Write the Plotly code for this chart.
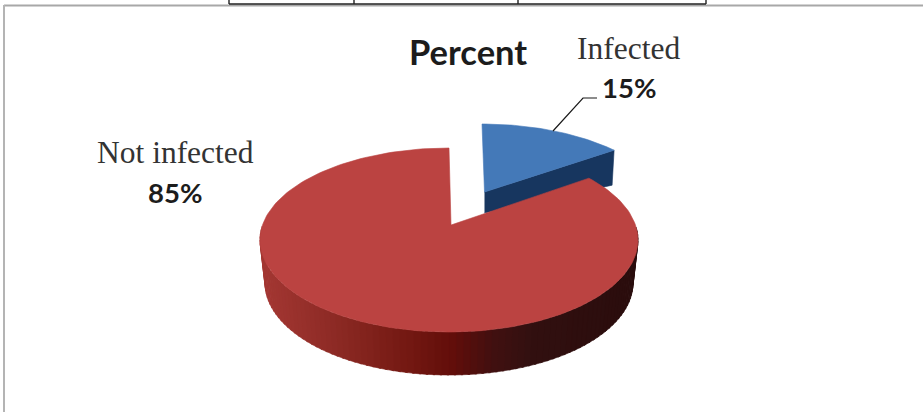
import math
import plotly.graph_objects as go

title = "Percent"
categories = ["Infected", "Not infected"]
percent = [15, 85]
slice_colors = ["#4479b8", "#bb4341"]
wall_color = "#17365f"

W, H = 923, 412
# projected pie geometry (paper pixels)
CX, CY, RX, RY = 449, 240, 189, 92
BX, BY, BRX, BRY = 449, 283, 184, 92
SQUASH_RED, SQUASH_BLUE = 0.80, 0.71
EXPLODE = (33, -24)
start_deg = percent[0] / sum(percent) * 360


def warp(deg, k):
    """true pie angle (clockwise from 12 o'clock) to ellipse parameter"""
    r = math.radians(deg)
    return math.atan2(math.sin(r) * k, math.cos(r))


def pt(cx, cy, rx, ry, t):
    return cx + rx * math.sin(t), cy - ry * math.cos(t)


def mix(stops, x):
    for (x0, c0), (x1, c1) in zip(stops, stops[1:]):
        if x <= x1:
            f = max(0, (x - x0) / (x1 - x0))
            return "rgb(%d,%d,%d)" % tuple(c0[i] + (c1[i] - c0[i]) * f for i in range(3))
    return "rgb(%d,%d,%d)" % stops[-1][1]


side_stops = [(262, (165, 56, 52)), (340, (140, 42, 36)), (410, (115, 24, 18)),
              (452, (98, 14, 10)), (490, (66, 16, 16)), (530, (50, 16, 16)),
              (640, (42, 13, 13))]

fig = go.Figure()


def poly(xs, ys, color):
    fig.add_trace(go.Scatter(x=xs, y=ys, mode="lines", fill="toself", fillcolor=color,
                             line=dict(color=color, width=0.6), hoverinfo="skip",
                             showlegend=False))


# blue slice: walls first, then face
t0 = warp(0, SQUASH_BLUE)
t1 = warp(start_deg, SQUASH_BLUE)
bx, by = CX + EXPLODE[0], CY + EXPLODE[1]
apex_b = (484.5, 192)
tip = pt(bx, by, RX, RY, t1)
poly([apex_b[0], tip[0], tip[0] - 2, apex_b[0]],
     [apex_b[1], tip[1], tip[1] + 35, apex_b[1] + 21, ], wall_color)
ts = [t0 + (t1 - t0) * i / 40 for i in range(41)]
arc = [pt(bx, by, RX, RY, t) for t in ts]
poly([apex_b[0]] + [p[0] for p in arc] + [apex_b[0]],
     [apex_b[1]] + [p[1] for p in arc] + [apex_b[1]], slice_colors[0])

# red side wall as gradient strips
N = 90
for i in range(N):
    a = math.radians(82 + (278 - 82) * i / N)
    b = math.radians(82 + (278 - 82) * (i + 1.3) / N)
    p0, p1 = pt(CX, CY, RX, RY, a), pt(CX, CY, RX, RY, b)
    q0, q1 = pt(BX, BY, BRX, BRY, a), pt(BX, BY, BRX, BRY, b)
    poly([p0[0], p1[0], q1[0], q0[0], p0[0]], [p0[1], p1[1], q1[1], q0[1], p0[1]],
         mix(side_stops, (q0[0] + q1[0]) / 2))

# red face
t0 = warp(start_deg, SQUASH_RED)
t1 = warp(360, SQUASH_RED) + 2 * math.pi
ts = [t0 + (t1 - t0) * i / 200 for i in range(201)]
arc = [pt(CX, CY, RX, RY, t) for t in ts]
apex_r = (451, 225)
poly([apex_r[0]] + [p[0] for p in arc] + [apex_r[0]],
     [apex_r[1]] + [p[1] for p in arc] + [apex_r[1]], slice_colors[1])

# leader line
fig.add_trace(go.Scatter(x=[553, 583, 597], y=[131, 98, 98], mode="lines",
                         line=dict(color="#1a1a1a", width=1.2), hoverinfo="skip",
                         showlegend=False))

shapes = [
    dict(type="line", x0=4, x1=923, y0=5.5, y1=5.5, line=dict(color="#a8a8a8", width=2)),
    dict(type="line", x0=4, x1=4, y0=5, y1=412, line=dict(color="#b4b4b4", width=2)),
    dict(type="line", x0=229, x1=706, y0=4, y1=4, line=dict(color="#222222", width=1.4)),
]
for vx in (229, 354, 518, 706):
    shapes.append(dict(type="line", x0=vx, x1=vx, y0=0, y1=4, line=dict(color="#222222", width=1.4)))

BOLD = "Lato"
SERIF = "Liberation Serif"


def txt(x, y, s, fam, size, bold=False, color="#1c1c1c"):
    return dict(x=x, y=y, xref="x", yref="y", text=f"<b>{s}</b>" if bold else s,
                showarrow=False, xanchor="center", yanchor="middle",
                font=dict(family=fam, size=size, color=color))


annotations = [
    txt(467.5, 51, title, BOLD, 34.5, True),
    txt(628.5, 48, categories[0], SERIF, 31.5, color="#333333"),
    txt(629, 87, f"{percent[0]}%", BOLD, 27.5, True),
    txt(175, 152, categories[1], SERIF, 31.5, color="#333333"),
    txt(175, 192, f"{percent[1]}%", BOLD, 27.5, True),
]

fig.update_layout(width=W, height=H, margin=dict(l=0, r=0, t=0, b=0),
                  paper_bgcolor="white", plot_bgcolor="white", showlegend=False,
                  xaxis=dict(range=[0, W], visible=False, fixedrange=True),
                  yaxis=dict(range=[H, 0], visible=False, fixedrange=True),
                  shapes=shapes, annotations=annotations)
fig.write_html("out.html", config={"displayModeBar": False},
               post_script="document.body.style.margin='0';document.body.style.overflow='hidden';")
